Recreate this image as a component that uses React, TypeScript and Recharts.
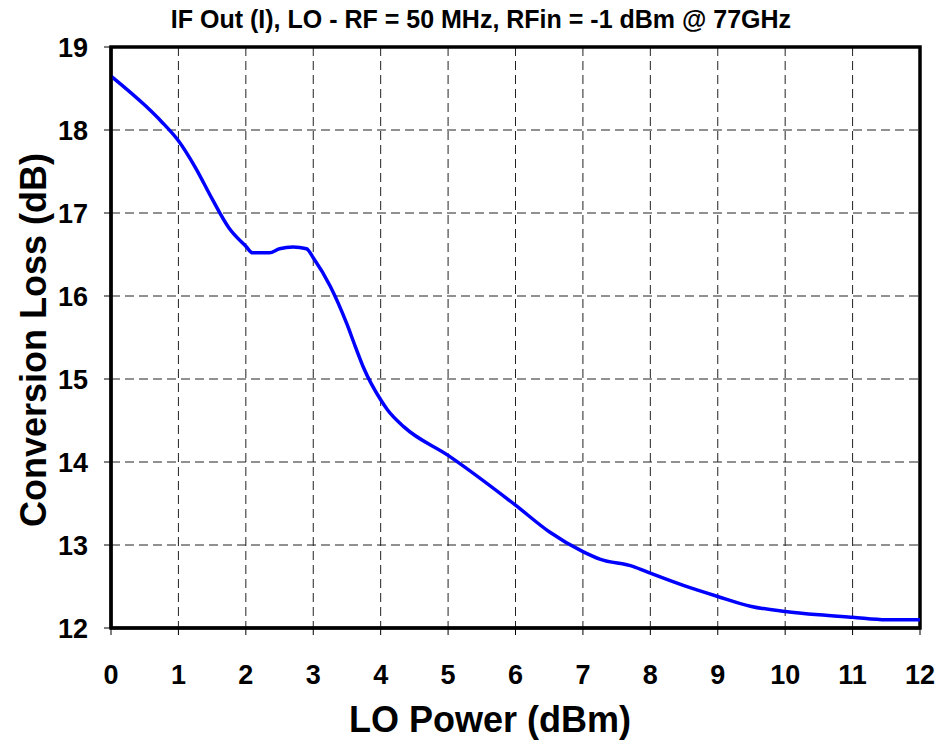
import { LineChart, Line, XAxis, YAxis, CartesianGrid, ReferenceArea } from 'recharts';

const loPower = [
  0, 0.5, 0.75, 1, 1.25, 1.5, 1.75, 2, 2.1, 2.35, 2.5, 2.7, 2.9, 3, 3.25, 3.5, 3.62,
  3.75, 4, 4.1, 4.35, 5, 6, 6.5, 7, 7.25, 7.75, 8, 8.5, 9, 9.5, 10, 10.5, 11, 11.5, 12,
];
const conversionLoss = [
  18.65, 18.3, 18.1, 17.87, 17.55, 17.17, 16.82, 16.6, 16.52, 16.52, 16.57, 16.59, 16.57,
  16.46, 16.12, 15.66, 15.4, 15.13, 14.75, 14.63, 14.42, 14.08, 13.48, 13.16, 12.92, 12.83,
  12.74, 12.66, 12.51, 12.38, 12.26, 12.2, 12.16, 12.13, 12.1, 12.1,
];
const xTicks = [0, 1, 2, 3, 4, 5, 6, 7, 8, 9, 10, 11, 12];
const yTicks = [12, 13, 14, 15, 16, 17, 18, 19];

const title = 'IF Out (I), LO - RF = 50 MHz, RFin = -1 dBm @ 77GHz';
const xLabel = 'LO Power (dBm)';
const yLabel = 'Conversion Loss (dB)';

const data = loPower.map((x, i) => ({ x, loss: conversionLoss[i] }));

const font = '"Liberation Sans", Arial, Helvetica, sans-serif';
const tickStyle = { fontFamily: font, fontSize: 27, fontWeight: 700, fill: '#000' };

export default function App() {
  return (
    <div style={{ position: 'absolute', left: 0, top: 0, width: 940, height: 740, background: '#fff', fontFamily: font }}>
      <LineChart
        width={940}
        height={740}
        data={data}
        margin={{ top: 47, right: 20, bottom: 52, left: 31 }}
      >
        <CartesianGrid stroke="#222" strokeDasharray="9 5" strokeWidth={1} />
        <XAxis
          dataKey="x"
          type="number"
          domain={[0, 12]}
          ticks={xTicks}
          height={60}
          tickSize={7}
          tickMargin={30}
          axisLine={{ stroke: '#000', strokeWidth: 3 }}
          tickLine={{ stroke: '#000', strokeWidth: 1 }}
          tick={tickStyle}
          interval={0}
        />
        <YAxis
          type="number"
          domain={[12, 19]}
          ticks={yTicks}
          width={80}
          tickSize={7}
          tickMargin={16}
          axisLine={{ stroke: '#000', strokeWidth: 3 }}
          tickLine={{ stroke: '#000', strokeWidth: 1 }}
          tick={tickStyle}
          interval={0}
        />
        <ReferenceArea x1={0} x2={12} y1={12} y2={19} fill="none" fillOpacity={0} stroke="#000" strokeWidth={3.5} />
        <Line
          type="monotone"
          dataKey="loss"
          stroke="#0000ff"
          strokeWidth={3.5}
          dot={false}
          isAnimationActive={false}
        />
      </LineChart>

      {/* title and axis titles */}
      <div
        style={{
          position: 'absolute', left: 81, top: 7, width: 800, textAlign: 'center', whiteSpace: 'nowrap',
          fontSize: 25, lineHeight: '25px', fontWeight: 700,
        }}
      >
        {title}
      </div>
      <div
        style={{
          position: 'absolute', left: 190, top: 702, width: 600, textAlign: 'center', whiteSpace: 'nowrap',
          fontSize: 36, lineHeight: '36px', fontWeight: 700,
        }}
      >
        {xLabel}
      </div>
      <div
        style={{
          position: 'absolute', left: -266, top: 322, width: 600, height: 36, textAlign: 'center', whiteSpace: 'nowrap',
          fontSize: 36, lineHeight: '36px', fontWeight: 700, transform: 'rotate(-90deg)',
        }}
      >
        {yLabel}
      </div>
    </div>
  );
}
